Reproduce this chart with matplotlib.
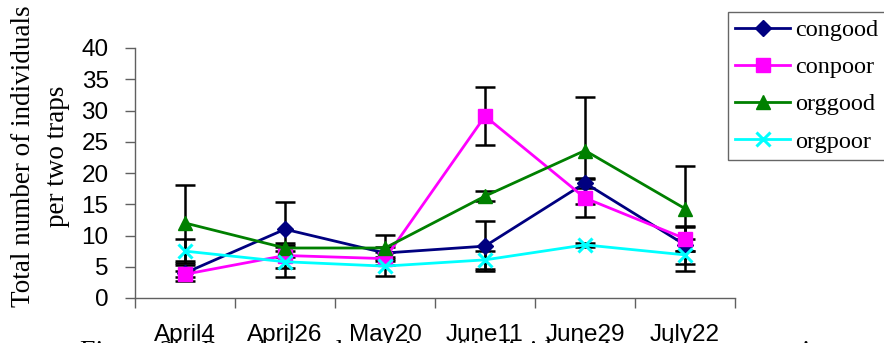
import matplotlib
matplotlib.use("Agg")
import matplotlib.pyplot as plt
import numpy as np

categories = ["April4", "April26", "May20", "June11", "June29", "July22"]
series_names = ["congood", "conpoor", "orggood", "orgpoor"]
congood = [4.0, 11.0, 7.2, 8.3, 18.4, 8.5]
conpoor = [3.8, 6.8, 6.3, 29.1, 16.0, 9.5]
orggood = [12.0, 8.0, 8.0, 16.3, 23.6, 14.3]
orgpoor = [7.5, 5.8, 5.1, 6.1, 8.5, 6.9]
congood_err = [1.3, 4.4, 1.0, 4.0, 0.8, 3.0]
conpoor_err = [0.5, 2.0, 1.0, 4.6, 3.0, 1.9]
orggood_err = [6.1, 0.5, 2.1, 0.8, 8.6, 6.8]
orgpoor_err = [1.9, 2.4, 1.5, 1.5, 0.3, 2.5]
yticks = [0, 5, 10, 15, 20, 25, 30, 35, 40]
ylabel = "Total number of individuals\nper two traps"
caption = "Figure 2b. Population dynamics of individuals in various categories"

values = [congood, conpoor, orggood, orgpoor]
errors = [congood_err, conpoor_err, orggood_err, orgpoor_err]
colors = ["#000080", "#FF00FF", "#008000", "#00FFFF"]
markers = ["D", "s", "^", "x"]
msizes = [8, 10, 10, 10]

fig = plt.figure(figsize=(8.84, 3.43), dpi=100)
ax = fig.add_axes([135/884, 1-298/343, 600/884, 250/343])

x = np.arange(len(categories))
handles = []
for vals, errs, c, m, ms, name in zip(values, errors, colors, markers, msizes, series_names):
    ax.errorbar(x, vals, yerr=errs, fmt="none", ecolor="black", elinewidth=1.8,
                capsize=7, capthick=1.8, zorder=2)
    mew = 2.2 if m == "x" else 1
    h, = ax.plot(x, vals, color=c, marker=m, markersize=ms, linewidth=2,
                 markeredgecolor=c, markeredgewidth=mew, label=name, zorder=3)
    handles.append(h)

ax.set_xlim(-0.5, len(categories) - 0.5)
ax.set_ylim(0, 40)
ax.set_yticks(yticks)
ax.set_yticklabels([str(v) for v in yticks], fontfamily="Liberation Sans", fontsize=17.5)
ax.set_xticks(np.arange(len(categories) + 1) - 0.5)
ax.set_xticklabels([])
ax.set_xticks(x, minor=True)
ax.set_xticklabels(categories, minor=True, fontfamily="Liberation Sans", fontsize=17.5)
ax.tick_params(axis="x", which="minor", length=0, pad=19)
ax.tick_params(axis="x", which="major", length=7, width=1, color="#606060", direction="out")
ax.tick_params(axis="y", length=7, width=1, color="#606060", direction="out", pad=12)
for s in ["top", "right"]:
    ax.spines[s].set_visible(False)
for s in ["left", "bottom"]:
    ax.spines[s].set_color("#606060")
    ax.spines[s].set_linewidth(1)

fig.text(0.046, 0.545, ylabel, rotation=90, ha="center", va="center",
         fontfamily="Liberation Serif", fontsize=19.5, linespacing=1.45, multialignment="center")

leg = fig.legend(handles=handles, loc="upper left", bbox_to_anchor=(728/884, 1-12/343),
                 borderaxespad=0, prop={"family": "Liberation Serif", "size": 17.5},
                 handlelength=2.25, handletextpad=0.2, labelspacing=0.62, borderpad=0.3,
                 frameon=True, fancybox=False, edgecolor="#404040")
leg.get_frame().set_linewidth(1)

fig.text(80/884, -16/343, caption, ha="left", va="baseline",
         fontfamily="Liberation Serif", fontsize=20)

fig.savefig("out.png", dpi=100)
